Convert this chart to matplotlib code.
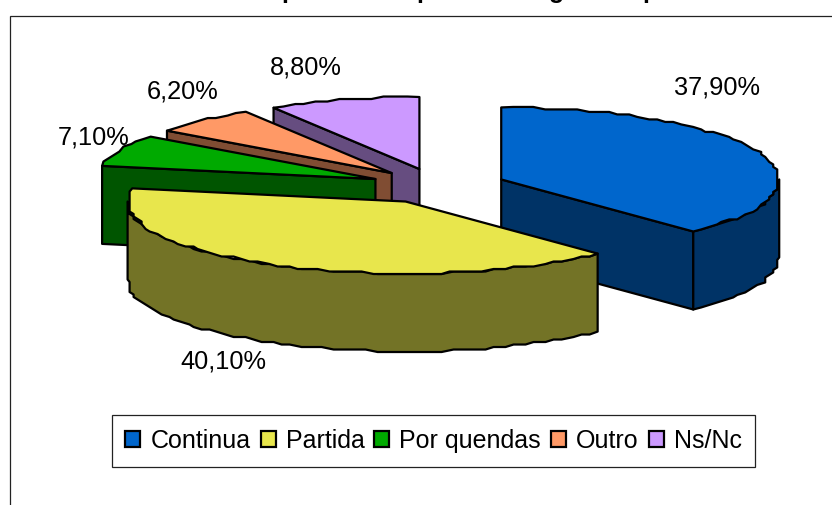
import numpy as np
import matplotlib
matplotlib.use('Agg')
import matplotlib.pyplot as plt
from matplotlib.patches import Polygon, Patch, Rectangle

plt.rcParams['font.family'] = ['Liberation Sans', 'DejaVu Sans']

# Datos del grafico
categorias = ['Continua', 'Partida', 'Por quendas', 'Outro', 'Ns/Nc']
valores = [37.9, 40.1, 7.1, 6.2, 8.8]
etiquetas = ['37,90%', '40,10%', '7,10%', '6,20%', '8,80%']
colores = ['#0066CC', '#E8E64C', '#00AA00', '#FF9966', '#CC99FF']
colores_lado = ['#003366', '#737326', '#005500', '#804D33', '#664D80']

# Geometria del pastel (pixeles)
CX, CY = 438.0, 186.0
RX, RY = 278.0, 72.0
PROF = 78.0
EXPLODE = 0.245
LW = 1.6
pos_etiquetas = [(717, 87), (223, 362), (94, 138), (183, 92), (306, 68)]

fig = plt.figure(figsize=(8.32, 5.05), dpi=100)
ax = fig.add_axes([0, 0, 1, 1])
ax.set_xlim(0, 832)
ax.set_ylim(505, 0)
ax.axis('off')


def arco(cx, cy, a0, a1):
    # borde ondulado, como en el original
    n = max(int(abs(a1 - a0) * 0.45), 2)
    t = np.radians(np.linspace(a0, a1, n))
    dx = np.round(RX * np.sin(t) / 4) * 4
    dy = np.round(-RY * np.cos(t) / 2.5) * 2.5
    dx[0], dy[0] = RX * np.sin(t[0]), -RY * np.cos(t[0])
    dx[-1], dy[-1] = RX * np.sin(t[-1]), -RY * np.cos(t[-1])
    return np.column_stack([cx + dx, cy + dy])


def cara(puntos, color, z):
    ax.add_patch(Polygon(puntos, closed=True, facecolor=color, edgecolor='black',
                         linewidth=LW, joinstyle='round', zorder=z))


# Marco exterior, se sale de la imagen por abajo y por la derecha
ax.add_patch(Rectangle((10, 16), 900, 600, facecolor='white', edgecolor='#222222',
                       linewidth=0.9, zorder=0))

angulos = np.cumsum([0] + valores) / np.sum(valores) * 360
# De atras hacia adelante
orden = [4, 3, 2, 0, 1]
for z, i in enumerate(orden):
    a0, a1 = angulos[i], angulos[i + 1]
    medio = np.radians((a0 + a1) / 2)
    cx = CX + EXPLODE * RX * np.sin(medio)
    cy = CY - EXPLODE * RY * np.cos(medio)
    bajar = np.array([0, PROF])
    apice = np.array([cx, cy])
    base = z * 10 + 1

    # Paredes radiales visibles
    for ang, visible in ((a0, np.sin(np.radians(a0)) < -1e-6), (a1, np.sin(np.radians(a1)) > 1e-6)):
        if visible:
            p = np.array([cx + RX * np.sin(np.radians(ang)), cy - RY * np.cos(np.radians(ang))])
            cara([apice, p, p + bajar, apice + bajar], colores_lado[i], base)

    # Pared curva, solo la mitad de delante
    f0, f1 = max(a0, 90), min(a1, 270)
    if f1 > f0:
        arriba = arco(cx, cy, f0, f1)
        cara(np.vstack([arriba, (arriba + bajar)[::-1]]), colores_lado[i], base + 1)

    # Cara de arriba
    cara(np.vstack([apice, arco(cx, cy, a0, a1)]), colores[i], base + 2)

for texto, (x, y) in zip(etiquetas, pos_etiquetas):
    ax.text(x, y, texto, fontsize=18.3, ha='center', va='center', color='black', zorder=100)

# Titulo cortado por arriba: solo se ven los rabos de estas letras
for letra, x in zip('ppgp', [289, 424, 557, 650]):
    ax.text(x, -2, letra, fontsize=18, fontweight='bold', ha='center', va='baseline',
            color='black', zorder=100, clip_on=False)

handles = [Patch(facecolor=c, edgecolor='black', linewidth=LW) for c in colores]
ley = ax.legend(handles, categorias, ncol=5, fontsize=18, loc='center',
                bbox_to_anchor=(433.5 / 832, 1 - 441 / 505), frameon=True, fancybox=False,
                edgecolor='#222222', framealpha=1, handlelength=0.6, handleheight=0.6,
                handletextpad=0.4, columnspacing=0.4, borderpad=0.55, borderaxespad=0)
ley.get_frame().set_linewidth(0.9)
ley.set_zorder(100)

fig.savefig('out.png', dpi=100)
